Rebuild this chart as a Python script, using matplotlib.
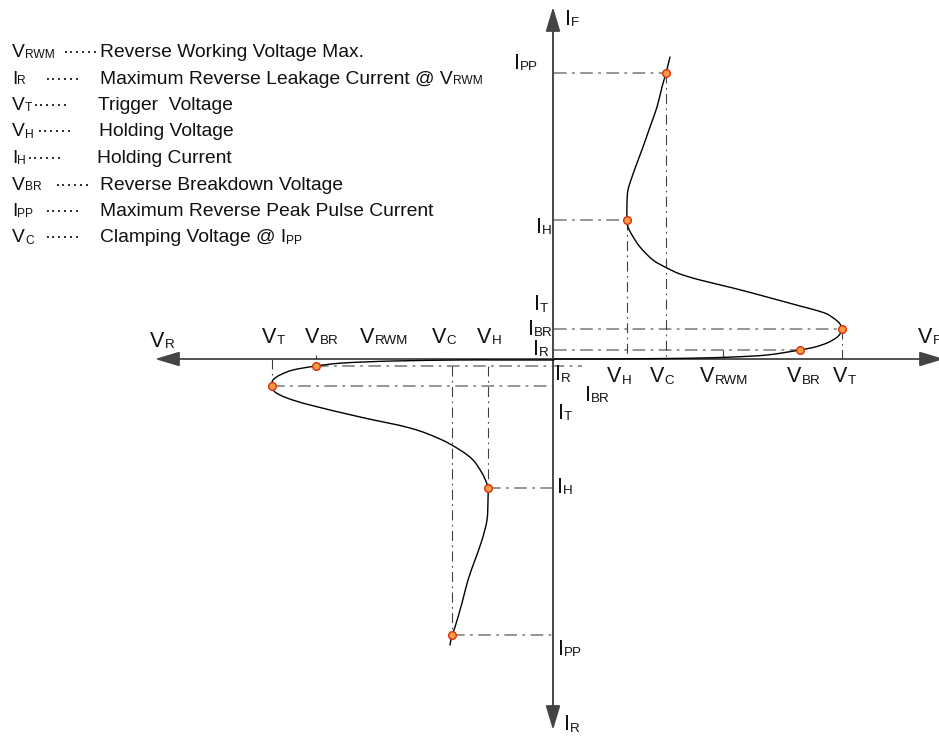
import matplotlib
matplotlib.use("Agg")
import matplotlib.pyplot as plt
from matplotlib.path import Path
from matplotlib.patches import PathPatch

plt.rcParams['font.family'] = ['Liberation Sans', 'DejaVu Sans']

# ---------------- data (arbitrary units: V horizontal, I vertical) -------------
fwd_v = [0, 46, 113, 146, 179, 213, 246, 261, 273, 282, 286, 288, 286, 282, 273, 261,
         246, 213, 179, 146, 126, 113, 99, 86, 78, 74, 73, 73, 74, 78, 83, 89, 96, 103,
         108, 112, 116]
fwd_i = [0, 0, 0.5, 1, 2, 4, 9, 12, 16, 21, 25, 30, 35, 39, 45, 49,
         53, 62, 71, 79, 85, 91, 99, 112, 124, 132, 139, 156, 169, 182, 196, 212, 232, 252,
         272, 286, 302]

rev_v = [0, -54, -94, -161, -211, -238, -261, -274, -281, -282, -279, -267, -244, -194,
         -144, -114, -94, -81, -72, -67, -66, -66, -67, -72, -79, -86, -92, -99, -102, -104]
rev_i = [-1, -1, -1, -2, -4, -7, -11, -16, -21, -27, -33, -39, -46, -58,
         -69, -80, -91, -101, -114, -125, -131, -141, -161, -181, -201, -221, -244, -268,
         -276, -286]

# key points: VBR/IR, VT/IBR, VH/IH, VC/IPP
fwd_key_v = [246, 288, 73, 112]
fwd_key_i = [9, 30, 139, 286]
rev_key_v = [-238, -282, -66, -102]
rev_key_i = [-7, -27, -129, -276]
v_rwm_pos = 169

legend_symbols = [('V', 'RWM'), ('I', 'R'), ('V', 'T'), ('V', 'H'), ('I', 'H'),
                  ('V', 'BR'), ('I', 'PP'), ('V', 'C')]
legend_texts = [[('Reverse Working Voltage Max.', False)],
                [('Maximum Reverse Leakage Current @ V', False), ('RWM', True)],
                [('Trigger  Voltage', False)], [('Holding Voltage', False)],
                [('Holding Current', False)], [('Reverse Breakdown Voltage', False)],
                [('Maximum Reverse Peak Pulse Current', False)],
                [('Clamping Voltage @ I', False), ('PP', True)]]

# ---------------- figure ---------------------------------------------------------
W, H = 939, 736
X0, Y0 = 554, 359  # origin pixel
fig = plt.figure(figsize=(W / 100, H / 100), dpi=100)
ax = fig.add_axes([0, 0, 1, 1])
ax.set_xlim(-X0, W - X0)
ax.set_ylim(Y0 - H, Y0)
ax.axis('off')
renderer = fig.canvas.get_renderer()


def px(x, y):
    return x - X0, Y0 - y


def text_width(s, fs):
    t = ax.text(0, 0, s, fontsize=fs)
    w = t.get_window_extent(renderer).width
    t.remove()
    return w


def rich(x, y, segments, fs, ha='left', sub_ratio=0.62, drop=1.5, color='#111111'):
    """segments: list of (string, is_subscript); x,y in pixels (baseline)."""
    widths = [text_width(s, fs * sub_ratio if sub else fs) for s, sub in segments]
    total = sum(widths)
    cx = x - total if ha == 'right' else x
    for (s, sub), w in zip(segments, widths):
        f = fs * sub_ratio if sub else fs
        yy = y + (drop if sub else 0)
        ax.text(*px(cx, yy), s, fontsize=f, ha='left', va='baseline', color=color)
        cx += w


def smooth_path(xs, ys):
    pts = list(zip(xs, ys))
    verts = [pts[0]]
    codes = [Path.MOVETO]
    n = len(pts)
    for k in range(n - 1):
        p0 = pts[k - 1] if k > 0 else pts[k]
        p1 = pts[k]
        p2 = pts[k + 1]
        p3 = pts[k + 2] if k + 2 < n else pts[k + 1]
        c1 = (p1[0] + (p2[0] - p0[0]) / 6, p1[1] + (p2[1] - p0[1]) / 6)
        c2 = (p2[0] - (p3[0] - p1[0]) / 6, p2[1] - (p3[1] - p1[1]) / 6)
        verts += [c1, c2, p2]
        codes += [Path.CURVE4] * 3
    return Path(verts, codes)


# axes with arrows
ax.annotate('', xy=px(944, 359), xytext=px(155, 359),
            arrowprops=dict(arrowstyle='<|-|>,head_length=1.5,head_width=0.45',
                            mutation_scale=10, color='#444444', lw=1.3,
                            shrinkA=0, shrinkB=0), annotation_clip=False)
ax.annotate('', xy=px(553, 7), xytext=px(553, 730),
            arrowprops=dict(arrowstyle='<|-|>,head_length=1.5,head_width=0.45',
                            mutation_scale=10, color='#444444', lw=1.3,
                            shrinkA=0, shrinkB=0), annotation_clip=False)
ax.plot(*zip(px(553, 27), px(553, 709)), color='#8a8a8a', lw=1.3, zorder=2)

# guide lines
hstyle = dict(color='#8c8c8c', lw=1.3, ls=(0, (7, 3, 1.5, 3)), zorder=1)
vstyle = dict(color='#404040', lw=0.8, ls=(0, (9, 4, 1.5, 4)), zorder=1)

for v, i in zip(fwd_key_v, fwd_key_i):
    ax.plot([0, v], [i, i], **hstyle)
for v, i in zip(fwd_key_v[1:], fwd_key_i[1:]):
    ax.plot([v, v], [i, 0], **vstyle)
ax.plot([v_rwm_pos, v_rwm_pos], [fwd_key_i[0], 0], **vstyle)

ax.plot([rev_key_v[0], 28], [rev_key_i[0]] * 2, **hstyle)
for v, i in zip(rev_key_v[1:], rev_key_i[1:]):
    ax.plot([v, 0], [i, i], **hstyle)
ax.plot([rev_key_v[1]] * 2, [0, rev_key_i[1]], **vstyle)
for v, i in zip(rev_key_v[2:], rev_key_i[2:]):
    ax.plot([v, v], [rev_key_i[0], i], **vstyle)
ax.plot([rev_key_v[0]] * 2, [4, 0], **vstyle)

# curves
for xs, ys in ((fwd_v, fwd_i), (rev_v, rev_i)):
    ax.add_patch(PathPatch(smooth_path(xs, ys), fill=False, edgecolor='black',
                           lw=1.0, zorder=3, capstyle='round', joinstyle='round'))

# markers
mk = dict(ls='none', marker='o', ms=5.5, mfc='#f0a040', mec='#e02a10', mew=1.0, zorder=4)
ax.plot(fwd_key_v, fwd_key_i, **mk)
ax.plot(rev_key_v, rev_key_i, **mk)

# labels
FS = 15.5


def lab(x, y, main, sub, ha='left'):
    rich(x, y, [(main, False), (sub, True)], FS, ha=ha, drop=1.5)


# positive voltage labels
lab(607, 382, 'V', 'H')
lab(650, 382, 'V', 'C')
lab(700, 382, 'V', 'RWM')
lab(787, 382, 'V', 'BR')
lab(833, 382, 'V', 'T')
lab(918, 343, 'V', 'F')
# negative voltage labels
lab(150, 347, 'V', 'R')
lab(262, 343, 'V', 'T')
lab(305, 343, 'V', 'BR')
lab(360, 343, 'V', 'RWM')
lab(432, 343, 'V', 'C')
lab(477, 343, 'V', 'H')
# current labels positive
lab(538, 69, 'I', 'PP', ha='right')
lab(552, 233, 'I', 'H', ha='right')
lab(548, 310, 'I', 'T', ha='right')
lab(553, 335, 'I', 'BR', ha='right')
lab(549, 355, 'I', 'R', ha='right')
lab(565, 25, 'I', 'F')
# current labels negative
lab(555, 380, 'I', 'R')
lab(585, 401, 'I', 'BR')
lab(558, 419, 'I', 'T')
lab(557, 493, 'I', 'H')
lab(558, 655, 'I', 'PP')
lab(564, 730, 'I', 'R')

# legend block
LFS = 13.9
dot_x = [63, 45, 33, 37, 27, 55, 45, 45]
txt_x = [100, 100, 98, 99, 97, 100, 100, 100]
for k, ((m, s), segs) in enumerate(zip(legend_symbols, legend_texts)):
    yb = 57 + 26.5 * k
    rich(12, yb, [(m, False), (s, True)], LFS, drop=1.0)
    ax.text(*px(dot_x[k], yb), '\u00b7' * 6, fontsize=LFS * 0.95, va='baseline',
            color='#111111')
    rich(txt_x[k], yb, segs, LFS, drop=1.0)

fig.savefig('out.png', dpi=100)
